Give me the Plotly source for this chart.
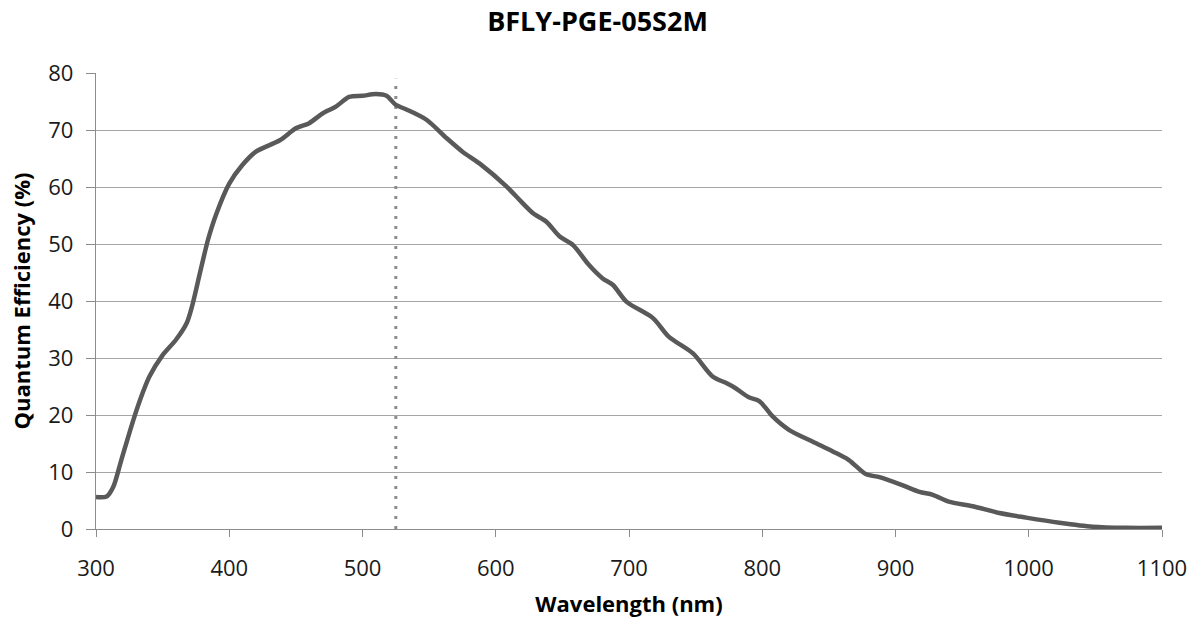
import plotly.graph_objects as go

wavelength_nm = [300, 308, 313, 319, 328, 333, 340, 350, 360, 368, 372, 378, 384, 390, 400,
                 410, 420, 438, 450, 460, 470, 480, 490, 500, 510, 518, 525, 533, 548, 563,
                 575, 588, 608, 618, 628, 638, 648, 658, 670, 680, 688, 698, 718, 730, 748,
                 763, 773, 780, 790, 798, 808, 820, 838, 853, 865, 878, 888, 905, 918, 928,
                 940, 958, 978, 998, 1023, 1048, 1073, 1100]
qe_percent = [5.6, 5.7, 7.4, 12.1, 19.1, 22.6, 26.7, 30.5, 33.2, 36.1, 39.0, 44.9, 50.7, 55.1, 60.6,
              63.9, 66.2, 68.2, 70.3, 71.2, 72.9, 74.1, 75.8, 76.0, 76.3, 76.0, 74.4, 73.6, 71.8, 68.6,
              66.2, 64.1, 60.1, 57.7, 55.4, 53.9, 51.3, 49.8, 46.3, 44.0, 42.8, 39.9, 37.0, 33.7, 30.8,
              26.7, 25.6, 24.7, 23.1, 22.4, 19.7, 17.4, 15.3, 13.6, 12.1, 9.6, 9.1, 7.7, 6.5, 6.0,
              4.8, 4.0, 2.8, 2.0, 1.1, 0.4, 0.2, 0.2]
marker_nm = 525
marker_y = [0, 79]
x_ticks = [300, 400, 500, 600, 700, 800, 900, 1000, 1100]
y_ticks = [0, 10, 20, 30, 40, 50, 60, 70, 80]

fig = go.Figure()
fig.add_trace(go.Scatter(x=[marker_nm, marker_nm], y=marker_y, mode="lines",
                         line=dict(color="#8c8c8c", width=3, dash="3px,7px"),
                         showlegend=False, hoverinfo="skip"))
fig.add_trace(go.Scatter(x=wavelength_nm, y=qe_percent, mode="lines",
                         line=dict(color="#595959", width=4.5, shape="spline", smoothing=0.8),
                         showlegend=False))

font_family = "Open Sans, Liberation Sans, sans-serif"
fig.update_layout(
    width=1195, height=620,
    margin=dict(l=96, r=33, t=73, b=91, autoexpand=False),
    paper_bgcolor="white", plot_bgcolor="white",
    title=dict(text="<b>BFLY-PGE-05S2M</b>", x=0.5, xanchor="center", y=0.966, yanchor="middle",
               font=dict(family=font_family, size=27, color="#000000")),
    font=dict(family=font_family, color="#000000"),
    xaxis=dict(range=[300, 1100], tickvals=x_ticks, ticks="outside", ticklen=7,
               ticklabelstandoff=12, automargin=False,
               tickcolor="#8c8c8c", showgrid=False, showline=True, linecolor="#8c8c8c",
               linewidth=1.3, zeroline=False, tickfont=dict(size=22, color="#1a1a1a"),
               title=dict(text="<b>Wavelength (nm)</b>", font=dict(size=22), standoff=16)),
    yaxis=dict(range=[0, 80], tickvals=y_ticks, ticks="outside", ticklen=9,
               ticklabelstandoff=8, automargin=False,
               tickcolor="#8c8c8c", showgrid=True, gridcolor="#a6a6a6", gridwidth=1.3,
               showline=True, linecolor="#8c8c8c", linewidth=1.3, zeroline=False,
               tickfont=dict(size=22, color="#1a1a1a"),
               title=dict(text="<b>Quantum Efficiency (%)</b>", font=dict(size=22), standoff=11)),
)

fig.write_html("out.html", config={"displayModeBar": False},
               post_script="document.body.style.margin='0';")
